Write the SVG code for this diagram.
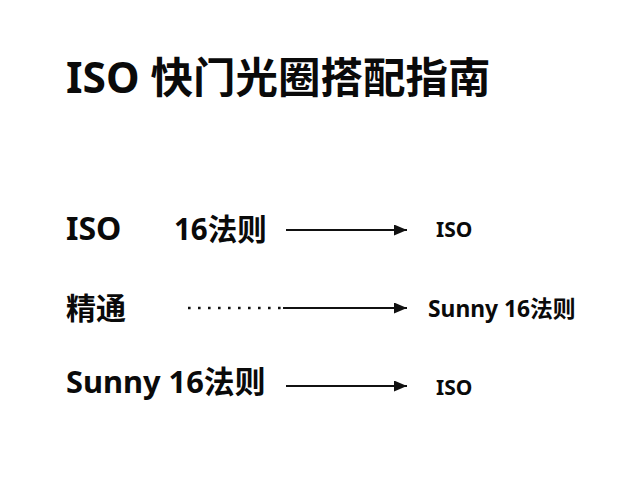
<svg xmlns="http://www.w3.org/2000/svg" width="640" height="480" viewBox="0 0 640 480">
  <style>
    text { font-family: "Noto Sans", "Noto Sans CJK SC", sans-serif; font-weight: bold; fill: #0a0a0a; }
    .title { font-size: 42.5px; }
    .lbl { font-size: 30px; }
    .sm { font-size: 21px; }
    .conn { stroke: #111; stroke-width: 2; fill: none; }
    .dot { stroke: #111; stroke-width: 2.6; fill: none; stroke-dasharray: 2.6 7.4; }
  </style>
  <defs>
    <marker id="arr" viewBox="0 0 13 11" refX="13" refY="5.5" markerWidth="13" markerHeight="11" markerUnits="userSpaceOnUse" orient="auto">
      <path d="M0,0 L13,5.5 L0,11 Z" fill="#111"/>
    </marker>
  </defs>
  <rect width="640" height="480" fill="#fff"/>
  <g id="title"><text class="title" x="66" y="93">ISO 快门光圈搭配指南</text></g>

  <g id="n-iso-left"><text class="lbl" x="66" y="240" style="font-size:32px">ISO</text></g>
  <g id="n-16"><text class="lbl" x="174" y="240" style="font-size:29.5px">16法则</text></g>
  <g id="n-iso-r1"><text class="sm" x="436" y="237">ISO</text></g>

  <g id="n-jingtong"><text class="lbl" x="66" y="319">精通</text></g>
  <g id="n-sunny-r2"><text class="sm" x="428" y="317" style="font-size:22.8px">Sunny 16法则</text></g>

  <g id="n-sunny-left"><text class="lbl" x="66" y="393" style="font-size:30.8px">Sunny 16法则</text></g>
  <g id="n-iso-r3"><text class="sm" x="436" y="395">ISO</text></g>

  <g id="connectors">
    <line class="conn" x1="286" y1="230" x2="407" y2="230" marker-end="url(#arr)"/>
    <line class="dot" x1="188" y1="308" x2="283" y2="308"/>
    <line class="conn" x1="283" y1="308" x2="407" y2="308" marker-end="url(#arr)"/>
    <line class="conn" x1="286" y1="386" x2="407" y2="386" marker-end="url(#arr)"/>
  </g>
</svg>
